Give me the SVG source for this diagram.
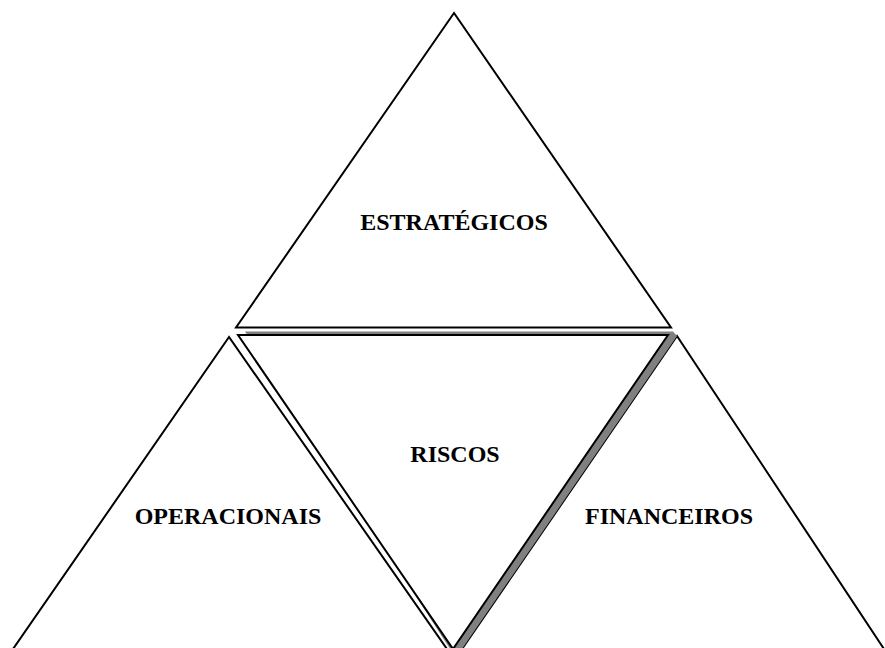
<svg xmlns="http://www.w3.org/2000/svg" width="885" height="648" viewBox="0 0 885 648">
<style>
.tri{fill:#fff;stroke:#000;stroke-width:2;stroke-linejoin:miter}
.shadow{fill:#808080;stroke:none}
.lbl{font-family:"Liberation Serif","Times New Roman",serif;font-weight:bold;font-size:24px;fill:#000;text-anchor:middle}
</style>
<rect width="885" height="648" fill="#fff"/>
<g id="estrategicos">
<polygon class="tri" points="454,13 236,327.5 671,327.5"/>
<text class="lbl" x="454" y="230">ESTRATÉGICOS</text>
</g>
<g id="operacionais">
<polygon class="tri" points="229,337 13,649 447,649"/>
<text class="lbl" x="228" y="524">OPERACIONAIS</text>
</g>
<g id="financeiros">
<polygon class="tri" points="677,336 462,649 884,649"/>
<text class="lbl" x="669" y="524">FINANCEIROS</text>
</g>
<g id="riscos">
<polygon class="shadow" points="245,331.5 673,331.5 677,336 462,649 455,652 452,652"/>
<polygon class="tri" points="238,335 668,335 453,649"/>
<text class="lbl" x="455" y="462">RISCOS</text>
</g>
<g id="connectors"></g>
</svg>
